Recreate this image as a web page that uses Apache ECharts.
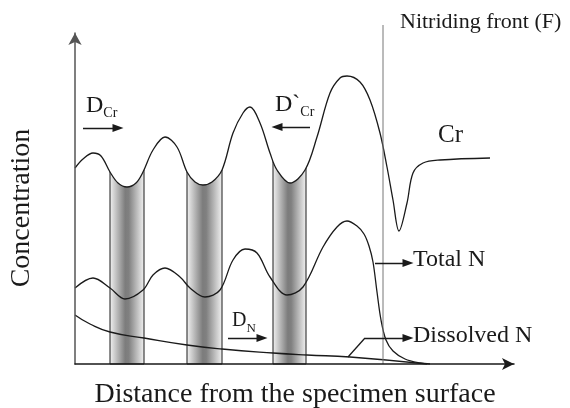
<!DOCTYPE html>
<html>
<head>
<meta charset="utf-8">
<script src="https://cdn.jsdelivr.net/npm/echarts@6/dist/echarts.min.js"></script>
<style>
  html, body { margin: 0; padding: 0; background: #fff; }
  #main { width: 570px; height: 408px; }
</style>
</head>
<body>
<div id="main"></div>
<script>
// schematic: distance from surface (arbitrary units) vs concentration (arbitrary units)
var crCurve = [
  [0, 196], [8, 205], [18, 211], [26, 208], [35, 192], [43, 181], [52, 177],
  [61, 181], [68, 192], [78, 214], [90, 227], [102, 217], [112, 192], [120, 182],
  [128, 179], [137, 182], [147, 194], [158, 231], [168, 251], [175, 257],
  [185, 241], [195, 211], [202, 194], [215, 181], [230, 194], [242, 227],
  [255, 271], [265, 286], [272, 288], [285, 282], [295, 264], [305, 231],
  [312, 197], [318, 164], [324, 133], [332, 161], [338, 191], [348, 201],
  [365, 204], [415, 206]
];
var totalN = [
  [0, 76], [18, 86], [35, 76], [50, 65], [68, 74], [78, 89], [90, 96],
  [105, 87], [115, 76], [130, 67], [145, 74], [158, 104], [170, 115],
  [182, 111], [195, 87], [212, 69], [228, 77], [248, 117], [262, 137],
  [272, 143], [282, 138], [289, 130], [294, 118], [298, 102], [302, 72],
  [306, 44], [311, 24], [318, 13], [330, 5], [345, 1], [355, 0]
];
var dissolvedN = [
  [0, 49], [15, 40], [35, 32], [69, 26], [112, 19], [147, 15], [198, 11],
  [232, 9], [275, 7], [352, 0]
];
// nitride precipitate bands [start, end]
var bands = [[35, 69], [112, 147], [198, 231]];
var frontX = 308;
// arrows: [from, to]
var arrows = [
  [[8, 236], [43, 236]],     // D_Cr
  [[235, 237], [202, 237]],  // D`Cr
  [[153, 26], [187, 26]],    // D_N
  [[300, 101], [333, 101]],  // Total N callout
  [[290, 26], [333, 26]]     // Dissolved N callout
];
var leaders = [[[273, 7], [290, 26]]];

var chart = echarts.init(document.getElementById('main'), null, {renderer: 'canvas'});
var ink = '#1a1a1a';
var serif = '"Liberation Serif", "Times New Roman", serif';

var bandFill = new echarts.graphic.LinearGradient(0, 0, 1, 0, [
  {offset: 0, color: '#f4f4f4'},
  {offset: 0.45, color: '#7c7c7c'},
  {offset: 0.55, color: '#808080'},
  {offset: 1, color: '#f4f4f4'}
]);

var markData = [];
arrows.forEach(function (a) {
  markData.push([{coord: a[0], symbol: 'none'}, {coord: a[1], symbol: 'triangle'}]);
});
leaders.forEach(function (a) {
  markData.push([{coord: a[0], symbol: 'none'}, {coord: a[1], symbol: 'none'}]);
});

function sub(main, s, size, subSize) {
  return {
    text: '{d|' + main + '}{s|' + s + '}',
    rich: {
      d: {fontSize: size, fontFamily: serif, fill: ink, lineHeight: 28},
      s: {fontSize: subSize, fontFamily: serif, fill: ink, lineHeight: 28, verticalAlign: 'bottom'}
    }
  };
}

var option = {
  animation: false,
  backgroundColor: '#fff',
  grid: {left: 75, right: 56, top: 33, bottom: 44},
  xAxis: {
    type: 'value', min: 0, max: 439, z: 10,
    axisLine: {show: true, symbol: ['none', 'arrow'], symbolSize: [9, 12], lineStyle: {color: ink, width: 1.5}},
    axisTick: {show: false}, axisLabel: {show: false}, splitLine: {show: false}
  },
  yAxis: {
    type: 'value', min: 0, max: 331, z: 10,
    axisLine: {show: true, symbol: ['none', 'arrow'], symbolSize: [10, 12], lineStyle: {color: '#555', width: 1.5}},
    axisTick: {show: false}, axisLabel: {show: false}, splitLine: {show: false}
  },
  series: [
    {
      type: 'custom', z: 1, silent: true,
      data: bands,
      encode: {x: [0, 1]},
      renderItem: function (params, api) {
        var p0 = api.coord([api.value(0), 240]);
        var p1 = api.coord([api.value(1), 0]);
        return {
          type: 'rect',
          shape: {x: p0[0], y: p0[1], width: p1[0] - p0[0], height: p1[1] - p0[1]},
          style: {fill: bandFill, stroke: ink, lineWidth: 1}
        };
      }
    },
    {
      name: 'Cr', type: 'line', z: 3, smooth: 0.35, showSymbol: false,
      data: crCurve,
      lineStyle: {color: ink, width: 1.3},
      areaStyle: {color: '#fff', opacity: 1, origin: 'end'}
    },
    {
      name: 'Total N', type: 'line', z: 4, smooth: 0.35, showSymbol: false,
      data: totalN,
      lineStyle: {color: ink, width: 1.3}
    },
    {
      name: 'Dissolved N', type: 'line', z: 4, smooth: 0.5, showSymbol: false,
      data: dissolvedN,
      lineStyle: {color: ink, width: 1.3},
      markLine: {
        silent: true, animation: false,
        symbol: ['none', 'triangle'], symbolSize: [8, 11],
        label: {show: false},
        lineStyle: {color: ink, width: 1.3, type: 'solid'},
        data: markData
      }
    },
    {
      name: 'front', type: 'line', z: 4, clip: false, showSymbol: false,
      data: [[frontX, 0], [frontX, 339]],
      lineStyle: {color: '#777', width: 1}
    }
  ],
  graphic: [
    {type: 'text', x: 400, y: 22, z: 20,
      style: {text: 'Nitriding front (F)', font: '22px ' + serif, fill: ink, align: 'left', verticalAlign: 'middle'}},
    {type: 'text', x: 438, y: 135, z: 20,
      style: {text: 'Cr', font: '25px ' + serif, fill: ink, align: 'left', verticalAlign: 'middle'}},
    {type: 'text', x: 413, y: 260, z: 20,
      style: {text: 'Total N', font: '24px ' + serif, fill: ink, align: 'left', verticalAlign: 'middle'}},
    {type: 'text', x: 413, y: 336, z: 20,
      style: {text: 'Dissolved N', font: '24px ' + serif, fill: ink, align: 'left', verticalAlign: 'middle'}},
    {type: 'text', x: 86, y: 106, z: 20,
      style: Object.assign(sub('D', 'Cr', 24, 14), {align: 'left', verticalAlign: 'middle'})},
    {type: 'text', x: 275, y: 105, z: 20,
      style: Object.assign(sub('D`', 'Cr', 24, 14), {align: 'left', verticalAlign: 'middle'})},
    {type: 'text', x: 232, y: 321, z: 20,
      style: Object.assign(sub('D', 'N', 20, 13), {align: 'left', verticalAlign: 'middle'})},
    {type: 'text', x: 22, y: 208, rotation: Math.PI / 2, z: 20,
      style: {text: 'Concentration', font: '28px ' + serif, fill: ink, align: 'center', verticalAlign: 'middle'}},
    {type: 'text', x: 295, y: 395, z: 20,
      style: {text: 'Distance from the specimen surface', font: '28px ' + serif, fill: ink, align: 'center', verticalAlign: 'middle'}}
  ]
};
chart.setOption(option);
</script>
</body>
</html>
